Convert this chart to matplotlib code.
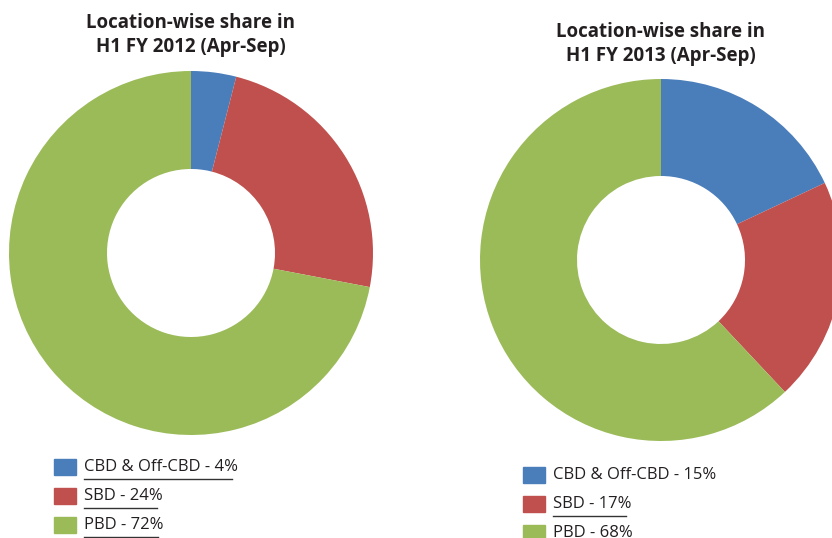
import matplotlib
matplotlib.use("Agg")
import matplotlib.pyplot as plt
from matplotlib.lines import Line2D
from matplotlib.patches import Rectangle

# Location-wise share, H1 FY2012 vs H1 FY2013
locations = ["CBD & Off-CBD", "SBD", "PBD"]
colors = ["#4a7ebb", "#c0504d", "#9bbb59"]

share_2012 = [4, 24, 72]
share_2013_drawn = [18, 20, 62]      # slice sizes as drawn in the picture
legend_2012 = ["CBD & Off-CBD - 4%", "SBD - 24%", "PBD - 72%"]
legend_2013 = ["CBD & Off-CBD - 15%", "SBD - 17%", "PBD - 68%"]
underline_2012 = [True, True, True]
underline_2013 = [False, True, False]

W, H = 832, 538
fig = plt.figure(figsize=(W / 100, H / 100), dpi=100)
TXT = "#231f20"


def px(x, y):
    # pixel coords (top-left origin) -> figure fraction
    return x / W, 1 - y / H


def donut(cx, cy, r, values, title, title_y):
    ax = fig.add_axes([(cx - r) / W, (H - cy - r) / H, 2 * r / W, 2 * r / H])
    ax.pie(values, colors=colors, startangle=90, counterclock=False,
           radius=1, wedgeprops=dict(width=1 - 84 / r, edgecolor="none"))
    ax.set_xlim(-1, 1)
    ax.set_ylim(-1, 1)
    ax.set_aspect("equal")
    ax.axis("off")
    tx, ty = px(cx, title_y)
    fig.text(tx, ty, title, ha="center", va="center", fontsize=13.5,
             fontweight="bold", family="Open Sans", color=TXT, linespacing=1.3)
    return ax


def legend(x0, y0, labels, underline, step=29):
    texts = []
    for i, (lab, c) in enumerate(zip(labels, colors)):
        y = y0 + i * step
        fig.patches.append(Rectangle(px(x0, y + 8), 22 / W, 16 / H, color=c,
                                     transform=fig.transFigure, figure=fig))
        t = fig.text(*px(x0 + 30, y), lab, ha="left", va="center",
                     fontsize=12, family="Open Sans", color=TXT)
        texts.append((t, y, underline[i]))
    return texts


donut(191, 253, 182, share_2012, "Location-wise share in\nH1 FY 2012 (Apr-Sep)", 35)
donut(661, 260, 181, share_2013_drawn, "Location-wise share in\nH1 FY 2013 (Apr-Sep)", 44)

items = legend(54, 467, legend_2012, underline_2012)
items += legend(523, 475, legend_2013, underline_2013)

fig.canvas.draw()
r = fig.canvas.get_renderer()
for t, y, ul in items:
    if not ul:
        continue
    bb = t.get_window_extent(r)
    x0 = bb.x0 / W
    x1 = bb.x1 / W
    yl = 1 - (y + 12) / H
    fig.add_artist(Line2D([x0, x1 - 6 / W], [yl, yl], color="#333333",
                          lw=1, transform=fig.transFigure))

fig.savefig("out.png", dpi=100)
